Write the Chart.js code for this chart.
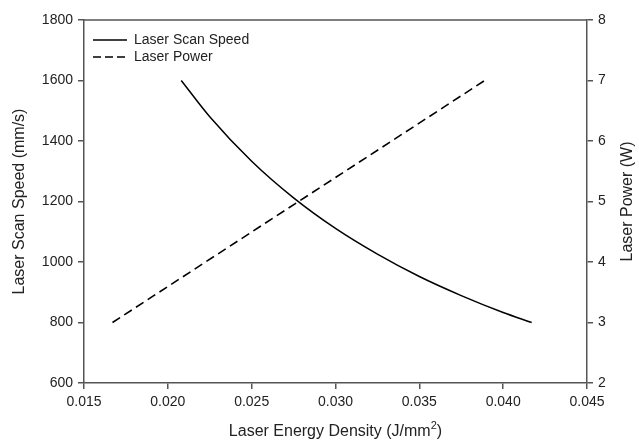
<!DOCTYPE html>
<html>
<head>
<meta charset="utf-8">
<script src="https://cdn.jsdelivr.net/npm/chart.js@4/dist/chart.umd.min.js"></script>
<style>
  html, body { margin: 0; padding: 0; background: #fff; }
  #wrap { width: 639px; height: 442px; }
</style>
</head>
<body>
<div id="wrap"><canvas id="chart" width="639" height="442"></canvas></div>
<script>
// ---------------- Data ----------------
const speedDensity = [0.0208, 0.0225, 0.025, 0.0275, 0.030, 0.0325, 0.035, 0.0375, 0.040, 0.0417];
const speedValues  = [1600, 1480, 1333, 1212, 1111, 1026, 952, 889, 833, 800];
const powerDensity = [0.0167, 0.0278, 0.0389];
const powerValues  = [3, 5, 7];

const FONT = "'Liberation Sans', Arial, sans-serif";
const AXIS_GRAY = "#555";
const TEXT = "#222";

// ---------------- Plugins ----------------
// frame top line, axis titles, legend inside the plot
const extras = {
  id: "extras",
  afterDraw(chart) {
    const { ctx, chartArea: a } = chart;
    const midY = (a.top + a.bottom) / 2;
    ctx.save();
    ctx.strokeStyle = AXIS_GRAY;
    ctx.lineWidth = 1.5;
    ctx.beginPath();
    ctx.moveTo(a.left, a.top);
    ctx.lineTo(a.right, a.top);
    ctx.stroke();

    ctx.fillStyle = TEXT;
    ctx.font = "16px " + FONT;
    ctx.textBaseline = "middle";

    // x title with a real superscript
    const main = "Laser Energy Density (J/mm";
    const wMain = ctx.measureText(main).width;
    ctx.font = "11px " + FONT;
    const wSup = ctx.measureText("2").width;
    ctx.font = "16px " + FONT;
    const wEnd = ctx.measureText(")").width;
    let x0 = (a.left + a.right) / 2 - (wMain + wSup + wEnd) / 2;
    ctx.textAlign = "left";
    ctx.fillText(main, x0, 432);
    ctx.font = "11px " + FONT;
    ctx.fillText("2", x0 + wMain, 426);
    ctx.font = "16px " + FONT;
    ctx.fillText(")", x0 + wMain + wSup, 432);

    ctx.textAlign = "center";
    ctx.save();
    ctx.translate(20, midY);
    ctx.rotate(-Math.PI / 2);
    ctx.fillText("Laser Scan Speed (mm/s)", 0, 0);
    ctx.restore();

    ctx.save();
    ctx.translate(628, midY);
    ctx.rotate(-Math.PI / 2);
    ctx.fillText("Laser Power (W)", 0, 0);
    ctx.restore();
    ctx.restore();

    // legend
    ctx.save();
    ctx.font = "14px " + FONT;
    ctx.textBaseline = "middle";
    ctx.fillStyle = TEXT;
    chart.data.datasets.forEach((ds, i) => {
      const y = a.top + 20 + i * 17;
      ctx.strokeStyle = ds.borderColor;
      ctx.lineWidth = ds.borderWidth;
      ctx.setLineDash(ds.borderDash ? [8, 4] : []);
      ctx.beginPath();
      ctx.moveTo(a.left + 9, y);
      ctx.lineTo(a.left + 43, y);
      ctx.stroke();
      ctx.setLineDash([]);
      ctx.fillText(ds.label, a.left + 50, y);
    });
    ctx.restore();
  }
};

// ---------------- Chart ----------------
const tickStyle = { color: TEXT, font: { family: FONT, size: 14 } };
const axisGrid = { drawOnChartArea: false, color: AXIS_GRAY, tickLength: 6, lineWidth: 1.5 };
const axisBorder = { color: AXIS_GRAY, width: 1.5 };

new Chart(document.getElementById("chart"), {
  type: "line",
  data: {
    datasets: [
      {
        label: "Laser Scan Speed",
        data: speedDensity.map((x, i) => ({ x, y: speedValues[i] })),
        yAxisID: "y",
        borderColor: "#000",
        borderWidth: 1.5,
        pointRadius: 0,
        cubicInterpolationMode: "monotone",
        fill: false
      },
      {
        label: "Laser Power",
        data: powerDensity.map((x, i) => ({ x, y: powerValues[i] })),
        yAxisID: "y1",
        borderColor: "#000",
        borderWidth: 1.6,
        borderDash: [9, 5],
        pointRadius: 0,
        fill: false
      }
    ]
  },
  options: {
    responsive: false,
    animation: false,
    layout: { padding: { top: 20, left: 0, right: 0, bottom: 0 } },
    plugins: { legend: { display: false }, tooltip: { enabled: false } },
    scales: {
      x: {
        type: "linear",
        min: 0.015, max: 0.045,
        afterFit: (s) => { s.height = 59; },
        ticks: { ...tickStyle, stepSize: 0.005, padding: 5, maxRotation: 0, callback: (v) => v.toFixed(3) },
        grid: axisGrid,
        border: axisBorder
      },
      y: {
        position: "left",
        min: 600, max: 1800,
        afterFit: (s) => { s.width = 84; },
        ticks: { ...tickStyle, stepSize: 200, padding: 5, callback: (v) => String(v) },
        grid: axisGrid,
        border: axisBorder
      },
      y1: {
        position: "right",
        min: 2, max: 8,
        afterFit: (s) => { s.width = 52; },
        ticks: { ...tickStyle, stepSize: 1, padding: 5, callback: (v) => String(v) },
        grid: axisGrid,
        border: axisBorder
      }
    }
  },
  plugins: [extras]
});
</script>
</body>
</html>
